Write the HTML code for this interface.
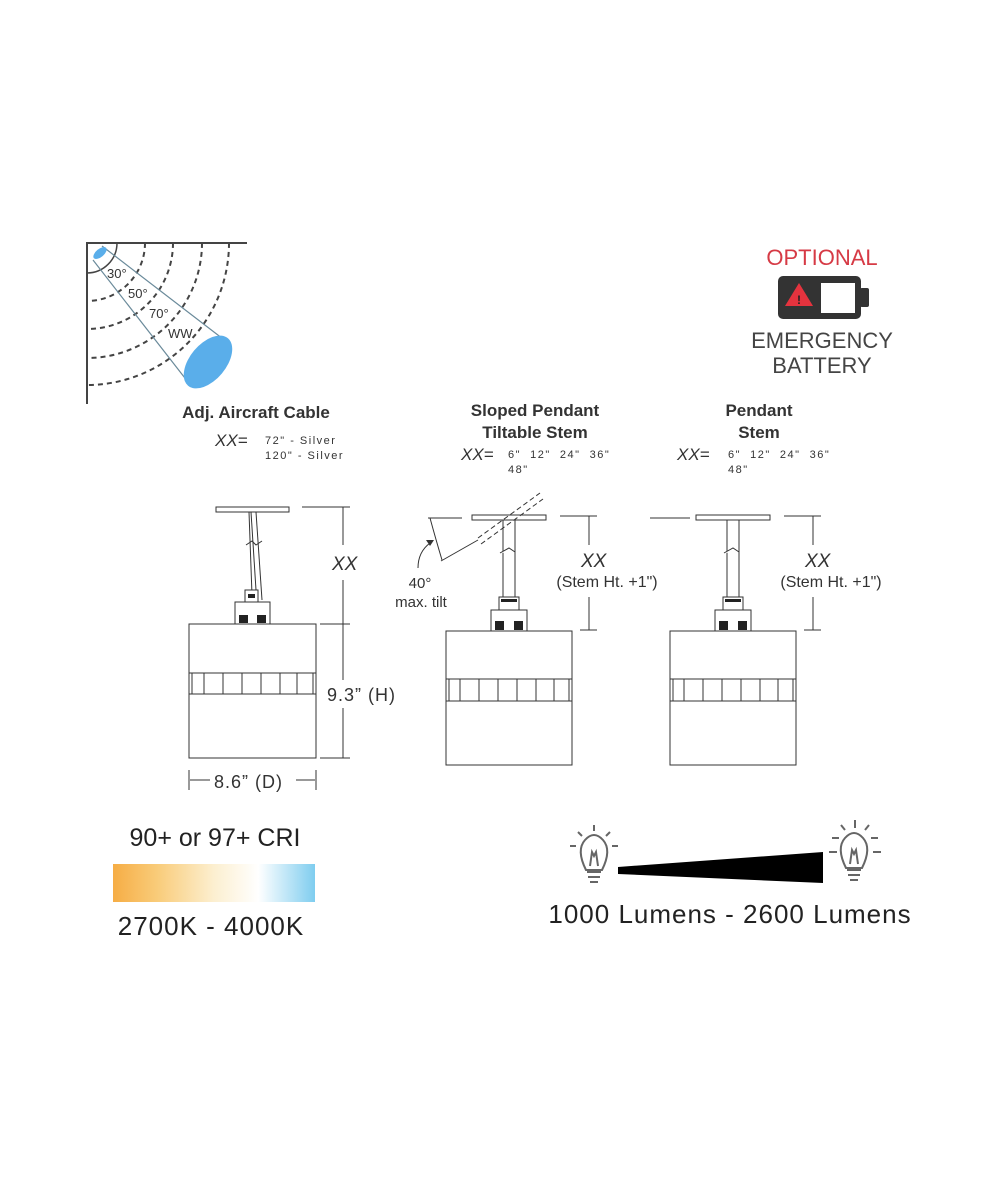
<!DOCTYPE html>
<html><head><meta charset="utf-8"><style>
html,body{margin:0;padding:0;background:#fff;}
svg{display:block;}
text{font-family:"Liberation Sans",sans-serif;}
</style></head><body>
<svg width="1000" height="1200" viewBox="0 0 1000 1200" xmlns="http://www.w3.org/2000/svg">
<defs>
<linearGradient id="cct" x1="0" x2="1" y1="0" y2="0">
<stop offset="0" stop-color="#f6ad45"/>
<stop offset="0.22" stop-color="#f9cc7a"/>
<stop offset="0.5" stop-color="#fcefd0"/>
<stop offset="0.72" stop-color="#ffffff"/>
<stop offset="1" stop-color="#7fcdef"/>
</linearGradient>
</defs>

<!-- Beam diagram -->
<g fill="none" stroke="#444" stroke-width="2">
<line x1="87" y1="242" x2="87" y2="404"/>
<line x1="86" y1="243" x2="247" y2="243"/>
<path d="M117 243 A30 30 0 0 1 87 273" stroke-width="1.5"/>
</g>
<g fill="none" stroke="#444" stroke-width="2" stroke-dasharray="5,4">
<path d="M145 243 A58 58 0 0 1 87 301"/>
<path d="M173 243 A86 86 0 0 1 87 329"/>
<path d="M202 243 A115 115 0 0 1 87 358"/>
<path d="M229 243 A142 142 0 0 1 87 385"/>
</g>
<g stroke="#6a8a9a" stroke-width="1.2" fill="none">
<line x1="102" y1="246" x2="227" y2="342"/>
<line x1="93" y1="260" x2="188" y2="382"/>
</g>
<ellipse cx="100" cy="253" rx="4" ry="8" transform="rotate(50 100 253)" fill="#5aaeea"/>
<ellipse cx="208" cy="362" rx="18" ry="31" transform="rotate(40 208 362)" fill="#5aaeea"/>
<g font-size="13" fill="#333">
<text x="107" y="278">30°</text>
<text x="128" y="298">50°</text>
<text x="149" y="318">70°</text>
<text x="168" y="338">WW</text>
</g>

<!-- Titles -->
<g font-size="17" fill="#333" text-anchor="middle" font-weight="bold">
<text x="256" y="418">Adj. Aircraft Cable</text>
<text x="535" y="416">Sloped Pendant</text>
<text x="535" y="438">Tiltable Stem</text>
<text x="759" y="416">Pendant</text>
<text x="759" y="438">Stem</text>
</g>
<g font-family="Liberation Serif,serif" font-style="italic" font-size="17" fill="#333">
<text x="215" y="446">XX=</text>
<text x="461" y="460">XX=</text>
<text x="677" y="460">XX=</text>
</g>
<g font-size="11" fill="#333" letter-spacing="1.5">
<text x="265" y="444">72" - Silver</text>
<text x="265" y="459">120" - Silver</text>
<text x="508" y="458" xml:space="preserve">6"  12"  24"  36"</text>
<text x="508" y="473">48"</text>
<text x="728" y="458" xml:space="preserve">6"  12"  24"  36"</text>
<text x="728" y="473">48"</text>
</g>

<!-- Fixture 1 -->
<g stroke="#333" stroke-width="1" fill="#fff">
<rect x="216" y="507" width="73" height="5"/>
<line x1="249" y1="512" x2="252" y2="595"/>
<line x1="256" y1="512" x2="262" y2="600"/>
<line x1="251" y1="512" x2="256" y2="590"/>
<rect x="245" y="590" width="13" height="12"/>
<rect x="235" y="602" width="35" height="22"/>
<rect x="189" y="624" width="127" height="134"/>
<rect x="189" y="673" width="127" height="21"/>
<path d="M192 673V694M204 673V694M223 673V694M242 673V694M261 673V694M280 673V694M297 673V694M313 673V694" fill="none"/>
<line x1="343" y1="507" x2="343" y2="545"/>
<line x1="343" y1="580" x2="343" y2="680"/>
<line x1="343" y1="708" x2="343" y2="758"/>
<line x1="302" y1="507" x2="350" y2="507"/>
<line x1="320" y1="624" x2="350" y2="624"/>
<line x1="320" y1="758" x2="350" y2="758"/>
<line x1="189" y1="770" x2="189" y2="790"/>
<line x1="316" y1="770" x2="316" y2="790"/>
<line x1="190" y1="780" x2="210" y2="780"/>
<line x1="296" y1="780" x2="315" y2="780"/>
</g>
<path d="M246 545 l6 -4 l4 4 l6 -4" stroke="#333" fill="none"/>
<rect x="239" y="615" width="9" height="8" fill="#222"/>
<rect x="257" y="615" width="9" height="8" fill="#222"/>
<rect x="248" y="594" width="7" height="4" fill="#222"/>
<text x="332" y="570" font-family="Liberation Serif,serif" font-style="italic" font-size="19" fill="#333">XX</text>
<text x="327" y="701" font-size="18" fill="#333" letter-spacing="1">9.3” (H)</text>
<text x="214" y="788" font-size="18" fill="#333" letter-spacing="1">8.6” (D)</text>

<!-- Fixture 2 and 3 -->
<g id="pend">
<g stroke="#333" stroke-width="1" fill="#fff">
<rect x="472" y="515" width="74" height="5"/>
<rect x="503" y="520" width="12" height="77"/>
<rect x="499" y="597" width="20" height="13"/>
<rect x="491" y="610" width="36" height="21"/>
<rect x="446" y="631" width="126" height="134"/>
<rect x="446" y="679" width="126" height="22"/>
<path d="M449 679V701M460 679V701M479 679V701M498 679V701M517 679V701M536 679V701M554 679V701M569 679V701" fill="none"/>
<line x1="589" y1="516" x2="589" y2="545"/>
<line x1="589" y1="597" x2="589" y2="630"/>
<line x1="560" y1="516" x2="597" y2="516"/>
<line x1="580" y1="630" x2="597" y2="630"/>
</g>
<path d="M500 553 l9 -5 l6 4" stroke="#333" fill="#fff"/>
<rect x="501" y="599" width="16" height="3" fill="#222"/>
<rect x="495" y="621" width="9" height="9" fill="#222"/>
<rect x="514" y="621" width="9" height="9" fill="#222"/>
<text x="581" y="567" font-family="Liberation Serif,serif" font-style="italic" font-size="19" fill="#333">XX</text>
<text x="607" y="587" font-size="16" fill="#333" text-anchor="middle">(Stem Ht. +1")</text>
</g>
<use href="#pend" transform="translate(224 0)"/>
<line x1="650" y1="518" x2="690" y2="518" stroke="#333"/>

<!-- tilt -->
<g stroke="#333" stroke-width="1" fill="none">
<line x1="428" y1="518" x2="462" y2="518"/>
<line x1="441" y1="561" x2="478" y2="540"/>
<path d="M478 538 L540 493 M481 544 L543 499" stroke-dasharray="5,3"/>
<path d="M430 518 Q436 540 442 560"/>
<path d="M418 568 Q418 552 430 543"/>
</g>
<path d="M426 540 L434 540 L430 546 Z" fill="#333"/>
<text x="420" y="588" font-size="15" fill="#333" text-anchor="middle">40°</text>
<text x="421" y="607" font-size="15" fill="#333" text-anchor="middle">max. tilt</text>

<!-- Battery -->
<text x="822" y="265" font-size="22" fill="#d63a45" text-anchor="middle">OPTIONAL</text>
<rect x="778" y="276" width="83" height="43" rx="5" fill="#333"/>
<rect x="860" y="288" width="9" height="19" rx="2" fill="#333"/>
<rect x="821" y="283" width="34" height="30" fill="#fff"/>
<path d="M799 283 L785 306 L813 306 Z" fill="#e5333e"/>
<text x="799" y="304" font-size="12" fill="#222" text-anchor="middle" font-weight="bold">!</text>
<text x="822" y="348" font-size="22" fill="#444" text-anchor="middle">EMERGENCY</text>
<text x="822" y="373" font-size="22" fill="#444" text-anchor="middle">BATTERY</text>

<!-- CRI -->
<text x="215" y="846" font-size="25" fill="#222" text-anchor="middle">90+ or 97+ CRI</text>
<rect x="113" y="864" width="202" height="38" fill="url(#cct)"/>
<text x="211" y="935" font-size="26" fill="#222" text-anchor="middle" letter-spacing="1">2700K - 4000K</text>

<!-- Lumens -->
<g stroke="#666" stroke-width="2" fill="none">
<path d="M586 870 Q576 850 585 840 Q594 830 603 840 Q612 850 602 870 Z"/>
<path d="M587 872 H601 M588 877 H600 M590 882 H598"/>
<path d="M590 866 L592 852 L594 856 L596 852 L598 866"/>
<path d="M594 825 V831 M578 832 l4 4 M610 832 l-4 4 M570 846 h6 M612 846 h6"/>
<path d="M846 868 Q836 848 845 838 Q854 828 863 838 Q872 848 862 868 Z"/>
<path d="M847 870 H861 M848 875 H860 M850 880 H858"/>
<path d="M850 864 L852 850 L854 854 L856 850 L858 864"/>
<path d="M855 820 V828 M841 825 l4 5 M869 825 l-4 5 M832 838 h7 M871 838 h7 M829 852 h8 M873 852 h8"/>
</g>
<polygon points="618,867 823,852 823,883 618,874" fill="#000"/>
<text x="730" y="923" font-size="26" fill="#222" text-anchor="middle" letter-spacing="1">1000 Lumens - 2600 Lumens</text>
</svg>
</body></html>
